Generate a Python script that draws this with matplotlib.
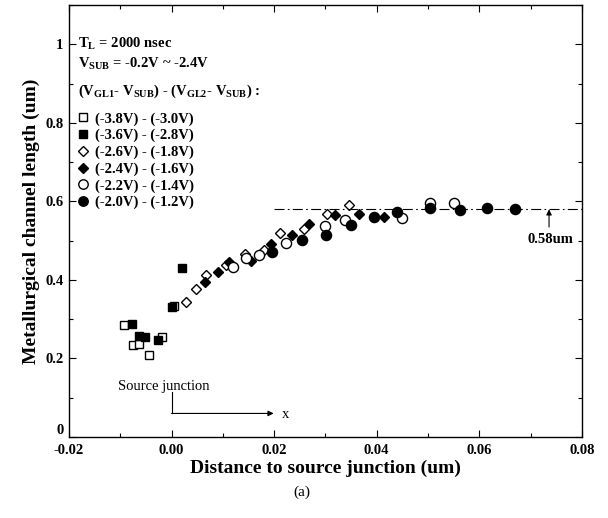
import matplotlib
matplotlib.use('Agg')
import matplotlib.pyplot as plt
import matplotlib.transforms as mtransforms
from matplotlib.ticker import MultipleLocator, FixedLocator, FixedFormatter
from matplotlib.lines import Line2D

plt.rcParams['font.family'] = ['Liberation Serif', 'DejaVu Serif']
plt.rcParams['mathtext.fontset'] = 'custom'
plt.rcParams['mathtext.rm'] = 'Liberation Serif'
plt.rcParams['mathtext.bf'] = 'Liberation Serif:bold'

# (-3.8V) - (-3.0V), open squares
sq_open_x = [-0.0092, -0.0076, -0.0064, -0.0044, -0.0019, 0.0005]
sq_open_y = [0.285, 0.235, 0.238, 0.208, 0.254, 0.334]
# (-3.6V) - (-2.8V), filled squares
sq_fill_x = [-0.0077, -0.0064, -0.0052, -0.0027, 0.0001, 0.0020]
sq_fill_y = [0.289, 0.257, 0.255, 0.246, 0.332, 0.430]
# (-2.6V) - (-1.8V), open diamonds
di_open_x = [0.0029, 0.0048, 0.0068, 0.0107, 0.0143, 0.0180, 0.0211, 0.0258, 0.0304, 0.0346]
di_open_y = [0.345, 0.377, 0.413, 0.439, 0.467, 0.477, 0.520, 0.531, 0.569, 0.590]
# (-2.4V) - (-1.6V), filled diamonds
di_fill_x = [0.0066, 0.0090, 0.0112, 0.0155, 0.0193, 0.0234, 0.0268, 0.0319, 0.0366, 0.0414]
di_fill_y = [0.395, 0.421, 0.445, 0.448, 0.492, 0.515, 0.542, 0.565, 0.568, 0.560]
# (-2.2V) - (-1.4V), open circles
ci_open_x = [0.0120, 0.0145, 0.0170, 0.0224, 0.0299, 0.0338, 0.0449, 0.0504, 0.0551]
ci_open_y = [0.433, 0.457, 0.463, 0.494, 0.538, 0.554, 0.558, 0.596, 0.596]
# (-2.0V) - (-1.2V), filled circles
ci_fill_x = [0.0195, 0.0254, 0.0302, 0.0350, 0.0395, 0.0440, 0.0504, 0.0562, 0.0616, 0.0669]
ci_fill_y = [0.470, 0.501, 0.515, 0.539, 0.560, 0.573, 0.583, 0.577, 0.583, 0.582]

labels = ['(-3.8V) - (-3.0V)', '(-3.6V) - (-2.8V)', '(-2.6V) - (-1.8V)',
          '(-2.4V) - (-1.6V)', '(-2.2V) - (-1.4V)', '(-2.0V) - (-1.2V)']
saturation = 0.58

yticks = [0, 0.2, 0.4, 0.6, 0.8, 1.0]
ytick_labels = ['0', '0.2', '0.4', '0.6', '0.8', '1']

fig = plt.figure(figsize=(6.08, 5.18), dpi=100)
ax = fig.add_axes([0.1135, 0.1564, 0.8435, 0.8336])

series = [
    (sq_open_x, sq_open_y, 's', 'white', 6.3),
    (sq_fill_x, sq_fill_y, 's', 'black', 6.3),
    (di_open_x, di_open_y, 'D', 'white', 5.2),
    (di_fill_x, di_fill_y, 'D', 'black', 5.2),
    (ci_open_x, ci_open_y, 'o', 'white', 7.3),
    (ci_fill_x, ci_fill_y, 'o', 'black', 7.3),
]
handles = []
for (xs, ys, m, fc, ms), lab in zip(series, labels):
    ax.plot(xs, ys, linestyle='none', marker=m, markersize=ms,
            markerfacecolor=fc, markeredgecolor='black', markeredgewidth=1)
    handles.append(Line2D([], [], linestyle='none', marker=m, markersize=ms - 0.5,
                          markerfacecolor=fc, markeredgecolor='black',
                          markeredgewidth=1, label=lab))

# 0.58um saturation line
ax.plot([0.02, 0.08], [saturation, saturation], color='black', lw=0.8,
        linestyle=(0, (9, 3, 1.5, 3)))
ax.annotate('', xy=(0.0736, saturation), xytext=(0.0736, 0.535),
            arrowprops=dict(arrowstyle='-|>', color='black', lw=0.8,
                            mutation_scale=8, shrinkA=0, shrinkB=0))
ax.text(0.0738, 0.503, '0.58um', ha='center', va='center', fontsize=10.5,
        fontweight='bold')

# source junction marker
ax.text(-0.0105, 0.128, 'Source junction', ha='left', va='center', fontsize=10.5)
ax.plot([0, 0], [0.115, 0.060], color='black', lw=0.8)
ax.annotate('', xy=(0.0199, 0.060), xytext=(0, 0.060),
            arrowprops=dict(arrowstyle='-|>', color='black', lw=0.8,
                            mutation_scale=8, shrinkA=0, shrinkB=0))
ax.text(0.0215, 0.058, 'x', ha='left', va='center', fontsize=10.5)

# header text
ax.text(-0.0183, 1.003, r'T$_\mathregular{L}$ = 2000 nsec', ha='left',
        va='center', fontsize=10.5, fontweight='bold')
ax.text(-0.0183, 0.952, r'V$_\mathregular{SUB}$ = -0.2V ~ -2.4V', ha='left',
        va='center', fontsize=10.5, fontweight='bold')
ax.text(-0.0183, 0.880,
        r'(V$_\mathregular{GL1}$- V$_\mathregular{SUB}$) - (V$_\mathregular{GL2}$- V$_\mathregular{SUB}$) :',
        ha='left', va='center', fontsize=10.5, fontweight='bold')

leg = ax.legend(handles=handles, loc='upper left', bbox_to_anchor=(0.013, 0.752),
                frameon=False, handlelength=1.0, handletextpad=0.3,
                labelspacing=0.22, borderpad=0, borderaxespad=0,
                prop={'family': 'Liberation Serif', 'weight': 'bold', 'size': 10.5})

ax.set_xlim(-0.02, 0.08)
ax.set_ylim(0, 1.1)
ax.xaxis.set_major_locator(MultipleLocator(0.02))
ax.xaxis.set_minor_locator(MultipleLocator(0.01))
ax.xaxis.set_major_formatter(plt.FormatStrFormatter('%.2f'))
ax.yaxis.set_major_locator(FixedLocator(yticks))
ax.yaxis.set_major_formatter(FixedFormatter(ytick_labels))
ax.yaxis.set_minor_locator(MultipleLocator(0.1))
ax.tick_params(which='both', direction='in', top=True, right=True)
ax.tick_params(which='major', length=5, width=0.8, labelsize=10.5)
ax.tick_params(axis='x', which='major', pad=5)
ax.tick_params(axis='y', which='major', pad=4)
ax.tick_params(which='minor', length=3, width=0.8)
for lab in ax.get_xticklabels() + ax.get_yticklabels():
    lab.set_fontweight('bold')
for s in ax.spines.values():
    s.set_linewidth(1.0)

# lift the "0" on the y axis so it clears the "-0.02" below it
fig.canvas.draw()
zero_lab = ax.get_yticklabels()[0]
zero_lab.set_transform(zero_lab.get_transform() +
                       mtransforms.ScaledTranslation(0, 6 / 72, fig.dpi_scale_trans))

ax.set_xlabel('Distance to source junction (um)', fontsize=14, fontweight='bold',
              labelpad=2)
ax.set_ylabel('Metallurgical channel length (um)', fontsize=14, fontweight='bold',
              labelpad=4)
fig.text(0.497, 0.050, '(a)', ha='center', va='center', fontsize=11)

fig.savefig('out.png', dpi=100)
